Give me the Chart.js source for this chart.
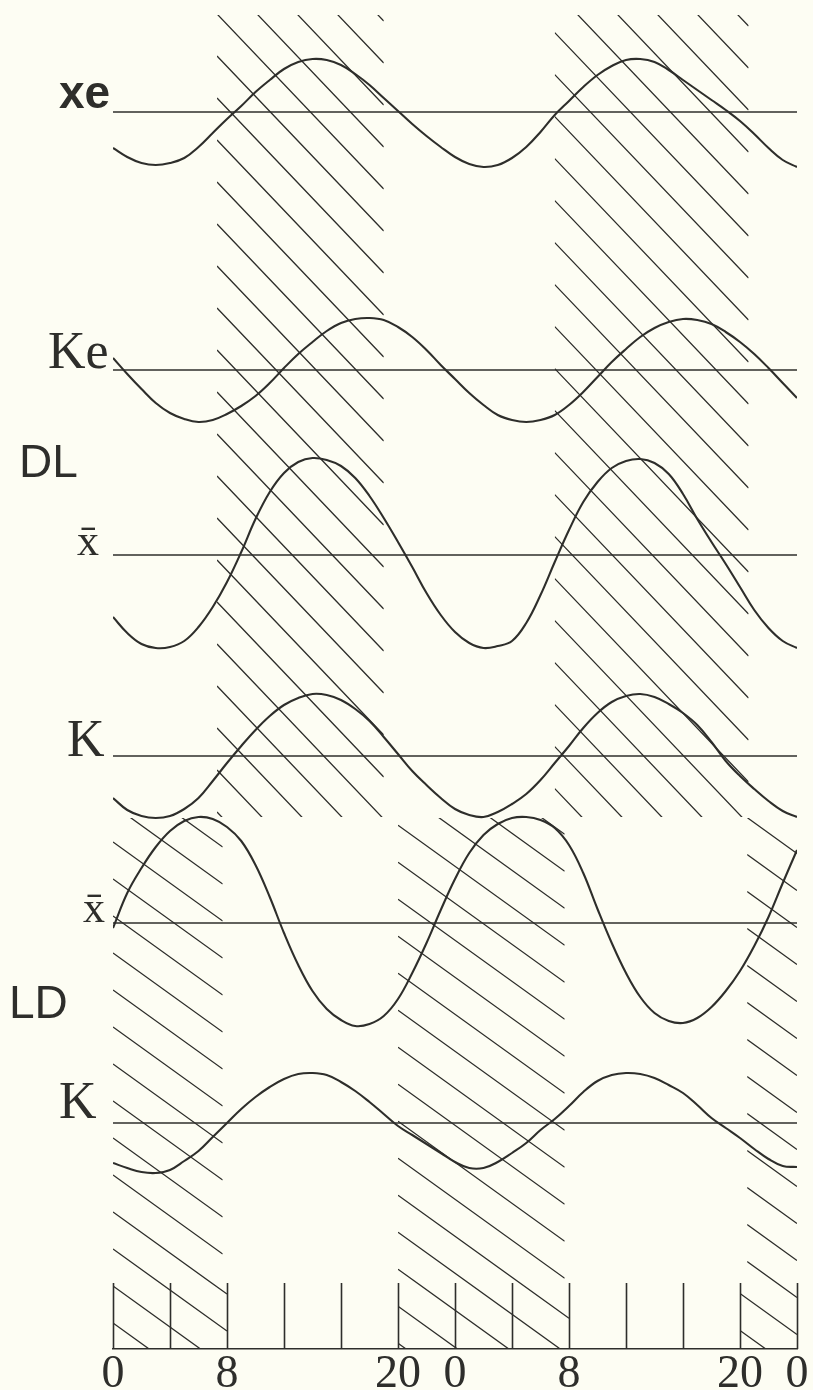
<!DOCTYPE html>
<html>
<head>
<meta charset="utf-8">
<title>DL / LD rhythms</title>
<script src="https://cdn.jsdelivr.net/npm/chart.js@4.4.0/dist/chart.umd.min.js"></script>
<style>
  html, body { margin: 0; padding: 0; background: #fdfdf3; }
  canvas { display: block; }
</style>
</head>
<body>
<canvas id="chart" width="813" height="1390"></canvas>
<script>
// Time of day, hours over two consecutive days
const hours = [0,1,2,3,4,5,6,7,8,9,10,11,12,13,14,15,16,17,18,19,20,21,22,23,24,
               25,26,27,28,29,30,31,32,33,34,35,36,37,38,39,40,41,42,43,44,45,46,47,48];

// DL schedule: deviations from each trace's mean level
const xeDL   = [-36,-45,-51,-53,-51,-46,-35,-21,-7,6,20,32,43,50,53,52,47,38,27,14,1,-12,-24,-35,-45,
                -52,-55,-53,-46,-35,-20,-3,11,25,37,46,52,53,50,42,32,22,12,2,-9,-22,-36,-48,-55];
const keDL   = [12,-4,-19,-33,-43,-49,-52,-50,-44,-36,-26,-13,2,16,28,39,47,51,52,50,43,33,20,5,-9,
                -23,-35,-45,-50,-52,-50,-45,-35,-22,-7,8,21,33,42,48,51,50,46,38,28,16,2,-13,-28];
const xbarDL = [-62,-78,-89,-93,-92,-86,-72,-52,-27,3,36,63,82,93,97,95,89,77,59,37,13,-12,-38,-60,-77,
                -88,-93,-91,-86,-68,-40,-7,25,53,73,87,94,96,92,81,61,36,13,-9,-32,-55,-73,-86,-93];
const kDL    = [-42,-54,-60,-62,-60,-53,-42,-25,-7,10,26,40,51,58,62,61,56,47,35,19,2,-15,-29,-42,-53,
                -59,-61,-56,-48,-38,-24,-7,10,28,43,54,60,62,59,52,43,31,14,-5,-20,-33,-45,-55,-61];

// LD schedule
const xbarLD = [-5,30,55,76,92,102,106,104,96,82,58,26,-10,-42,-68,-86,-97,-103,-101,-93,-76,-50,-20,13,44,
                70,88,99,105,106,103,95,78,50,14,-20,-50,-74,-90,-98,-100,-95,-84,-68,-48,-23,6,40,73];
const kLD    = [-40,-45,-49,-50,-47,-38,-28,-14,0,14,26,36,44,49,50,48,41,32,21,9,-3,-12,-21,-30,-39,
                -45,-45,-39,-30,-20,-7,4,17,31,42,48,50,49,45,38,30,18,5,-5,-15,-26,-36,-43,-44];

// Axis ticks and labels
const tickHours = [0, 8, 20, 24, 32, 44, 48];
const tickText  = ['0', '8', '20', '0', '8', '20', '0'];
const markHours = [0,4,8,12,16,20,24,28,32,36,40,44,48];

// Hatched (dark) intervals, hours
const darkDL    = [[7.3, 19.0], [31.0, 44.6]];
const darkLD    = [[0, 7.7], [20.0, 31.7], [44.5, 48]];
const darkScale = [[0, 8], [20, 32], [44, 48]];

// ---- layout / style ----
const INK = '#2e2e2b';
const PLOT_BOTTOM = 1349;           // pixel row of the time axis
const rows = [
  { id: 'yXe',     base: 112,  values: xeDL },
  { id: 'yKe',     base: 370,  values: keDL },
  { id: 'yXbarDL', base: 555,  values: xbarDL },
  { id: 'yKDL',    base: 756,  values: kDL },
  { id: 'yXbarLD', base: 923,  values: xbarLD },
  { id: 'yKLD',    base: 1123, values: kLD }
];

const rowLabels = [
  { text: 'xe', font: 'bold 46px "Liberation Sans"', x: 59, axis: 'yXe', dy: -4 },
  { text: 'Ke', font: '52px "Liberation Serif"', x: 48, axis: 'yKe', dy: -2 },
  { text: 'DL', font: '46px "Liberation Sans"', x: 19, axis: 'yXbarDL', dy: -78 },
  { text: 'x\u0304', font: '44px "Liberation Serif"', x: 77, axis: 'yXbarDL', dy: 0 },
  { text: 'K', font: '52px "Liberation Serif"', x: 67, axis: 'yKDL', dy: 0 },
  { text: 'x\u0304', font: '44px "Liberation Serif"', x: 83, axis: 'yXbarLD', dy: -1 },
  { text: 'LD', font: '46px "Liberation Sans"', x: 9, axis: 'yXbarLD', dy: 95 },
  { text: 'K', font: '52px "Liberation Serif"', x: 59, axis: 'yKLD', dy: -5 }
];

const hatchBlocks = [
  { spans: darkDL,    top: 15,   bottom: 817,  slope: 1.05, gap: 42, ox: 218, oy: 15 },
  { spans: darkLD,    top: 818,  bottom: 1283, slope: 0.72, gap: 37, ox: 113, oy: 1323 },
  { spans: darkScale, top: 1283, bottom: 1349, slope: 0.72, gap: 37, ox: 113, oy: 1323 }
];

// diagonal hatching over the dark intervals
const hatchPlugin = {
  id: 'hatch',
  beforeDatasetsDraw(chart) {
    const ctx = chart.ctx, xs = chart.scales.x;
    ctx.save();
    ctx.strokeStyle = INK;
    ctx.lineWidth = 1.3;
    hatchBlocks.forEach(b => {
      b.spans.forEach(([h0, h1]) => {
        const x0 = xs.getPixelForValue(h0), x1 = xs.getPixelForValue(h1);
        ctx.save();
        ctx.beginPath();
        ctx.rect(x0, b.top, x1 - x0, b.bottom - b.top);
        ctx.clip();
        ctx.beginPath();
        const ya0 = b.oy + b.slope * (x0 - b.ox);
        const yb0 = b.oy + b.slope * (x1 - b.ox);
        const kMin = Math.floor((b.top - yb0) / b.gap) - 1;
        const kMax = Math.ceil((b.bottom - ya0) / b.gap) + 1;
        for (let k = kMin; k <= kMax; k++) {
          ctx.moveTo(x0, ya0 + k * b.gap);
          ctx.lineTo(x1, yb0 + k * b.gap);
        }
        ctx.stroke();
        ctx.restore();
      });
    });
    ctx.restore();
  }
};

// upward tick marks on the time axis
const tickMarkPlugin = {
  id: 'tickMarks',
  afterDatasetsDraw(chart) {
    const ctx = chart.ctx, xs = chart.scales.x, bottom = chart.chartArea.bottom;
    ctx.save();
    ctx.strokeStyle = INK;
    ctx.lineWidth = 1.6;
    ctx.beginPath();
    markHours.forEach(h => {
      const px = Math.round(xs.getPixelForValue(h)) + 0.5;
      ctx.moveTo(px, bottom);
      ctx.lineTo(px, bottom - 66);
    });
    ctx.stroke();
    ctx.restore();
  }
};

// trace names at the left of each row
const rowLabelPlugin = {
  id: 'rowLabels',
  afterDraw(chart) {
    const ctx = chart.ctx;
    ctx.save();
    ctx.fillStyle = INK;
    ctx.textAlign = 'left';
    ctx.textBaseline = 'alphabetic';
    rowLabels.forEach(l => {
      ctx.font = l.font;
      const y = chart.scales[l.axis].getPixelForValue(0) + l.dy;
      ctx.fillText(l.text, l.x, y);
    });
    ctx.restore();
  }
};

const datasets = [];
const scales = {
  x: {
    type: 'linear',
    axis: 'x',
    min: 0, max: 48,
    position: 'bottom',
    grid: { display: false, drawTicks: false },
    border: { display: true, color: INK, width: 1.6 },
    afterBuildTicks: s => { s.ticks = tickHours.map(v => ({ value: v })); },
    afterFit: s => { s.height = 41; },
    ticks: {
      autoSkip: false, maxRotation: 0, minRotation: 0, padding: 3,
      color: INK,
      font: { family: '"Liberation Serif"', size: 46, lineHeight: 1 },
      callback: (v, i) => tickText[i]
    }
  }
};

rows.forEach(r => {
  scales[r.id] = { type: 'linear', axis: 'y', position: 'left', display: false,
                   min: r.base - PLOT_BOTTOM, max: r.base };
  datasets.push({
    data: hours.map((h, i) => ({ x: h, y: r.values[i] })),
    xAxisID: 'x', yAxisID: r.id,
    borderColor: INK, borderWidth: 2.1,
    pointRadius: 0, fill: false,
    tension: 0.4
  });
  datasets.push({
    data: [{ x: 0, y: 0 }, { x: 48, y: 0 }],
    xAxisID: 'x', yAxisID: r.id,
    borderColor: INK, borderWidth: 1.4,
    pointRadius: 0, fill: false
  });
});

new Chart(document.getElementById('chart'), {
  type: 'line',
  data: { datasets },
  options: {
    responsive: false,
    animation: false,
    devicePixelRatio: 1,
    layout: { padding: { left: 113, right: 16, top: 0, bottom: 0 } },
    plugins: { legend: { display: false }, tooltip: { enabled: false } },
    scales
  },
  plugins: [hatchPlugin, tickMarkPlugin, rowLabelPlugin]
});
</script>
</body>
</html>
